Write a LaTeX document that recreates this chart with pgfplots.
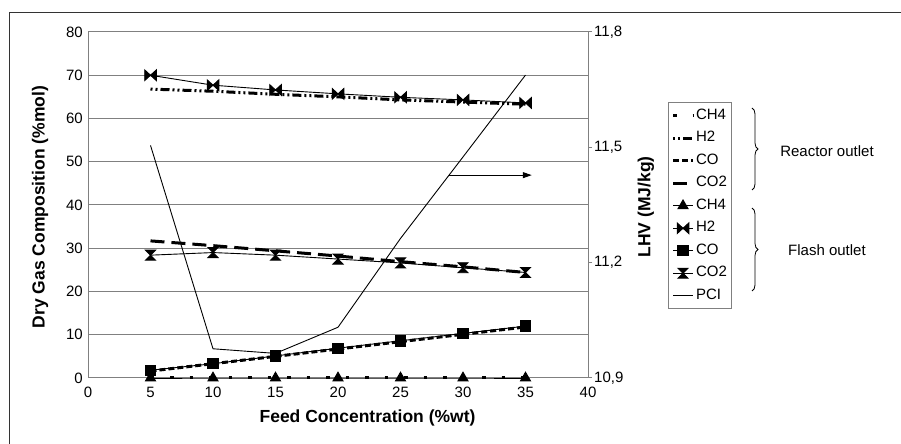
\documentclass[border=0pt]{standalone}
\usepackage{fontspec}
\setmainfont{Liberation Sans}
\usepackage{pgfplots}
\pgfplotsset{compat=1.18}
\usetikzlibrary{arrows.meta,decorations.pathreplacing}

% markers used by the flash outlet series
\pgfdeclareplotmark{bowtie}{%
  \pgfpathmoveto{\pgfqpoint{-5.8bp}{5.3bp}}%
  \pgfpathlineto{\pgfqpoint{5.8bp}{-5.3bp}}%
  \pgfpathlineto{\pgfqpoint{5.8bp}{5.3bp}}%
  \pgfpathlineto{\pgfqpoint{-5.8bp}{-5.3bp}}%
  \pgfpathclose
  \pgfusepathqfillstroke}
\pgfdeclareplotmark{hourglass}{%
  \pgfpathmoveto{\pgfqpoint{-5bp}{5bp}}%
  \pgfpathlineto{\pgfqpoint{5bp}{5bp}}%
  \pgfpathlineto{\pgfqpoint{-5bp}{-5bp}}%
  \pgfpathlineto{\pgfqpoint{5bp}{-5bp}}%
  \pgfpathclose
  \pgfusepathqfillstroke}

\newcommand{\txt}{\fontsize{15bp}{18bp}\selectfont}
\newcommand{\lbl}{\bfseries\fontsize{17.5bp}{20bp}\selectfont}

\begin{document}
\txt
\begin{tikzpicture}[x=1bp,y=1bp]
\useasboundingbox (0,0) rectangle (901,444);
\draw[line width=1bp, black!80] (9,0) -- (9,431) -- (901,431);

\begin{axis}[
    at={(88bp,66bp)}, anchor=south west,
    scale only axis, width=500bp, height=346bp,
    xmin=0, xmax=40, ymin=0, ymax=80,
    xtick={0,5,...,40}, ytick={0,10,...,80},
    axis x line*=bottom, axis y line*=left,
    axis line style={draw=black!50, line width=1bp},
    ymajorgrids, grid style={draw=black!50, line width=1bp},
    major tick length=0pt,
    tick label style={font=\txt},
    /pgf/number format/assume math mode=true,
    xticklabel style={yshift=-4bp},
    clip=false,
    legend cell align=left,
    legend style={at={(1.16,0.7977)}, anchor=north west,
        draw=black!50, line width=1bp, font=\txt,
        inner xsep=3bp, inner ysep=2bp, row sep=0pt,
        nodes={inner xsep=1.5bp, inner ysep=3.75bp, text height=11bp, text depth=4bp}},
    legend image code/.code={\draw[mark repeat=2,mark phase=2,#1]
        plot coordinates {(0bp,0bp) (10bp,0bp) (20bp,0bp)};},
]
% reactor outlet
\addplot[black, line width=3bp, dash pattern=on 3.5bp off 16bp] coordinates {
    (5,0) (10,0) (15,0) (20,0) (25,0) (30,0) (35,0)};
\addlegendentry{CH4}
\addplot[black, line width=3bp, dash pattern=on 2bp off 3bp on 2bp off 3bp on 9bp off 3bp] coordinates {
    (5,66.8) (10,66.3) (15,65.6) (20,65.0) (25,64.3) (30,63.8) (35,63.3)};
\addlegendentry{H2}
\addplot[black, line width=3bp, dash pattern=on 6bp off 3bp] coordinates {
    (5,1.6) (10,3.3) (15,5.0) (20,6.7) (25,8.4) (30,10.1) (35,11.8)};
\addlegendentry{CO}
\addplot[black, line width=3bp, dash pattern=on 14bp off 7bp] coordinates {
    (5,31.7) (10,30.6) (15,29.4) (20,28.2) (25,26.9) (30,25.7) (35,24.4)};
\addlegendentry{CO2}
% flash outlet
\addplot[black, line width=0.9bp, mark=triangle*, mark size=5.8bp, mark options={fill=black}] coordinates {
    (5,0) (10,0) (15,0) (20,0) (25,0) (30,0) (35,0)};
\addlegendentry{CH4}
\addplot[black, line width=0.9bp, mark=bowtie, mark options={fill=black}] coordinates {
    (5,70.0) (10,67.7) (15,66.6) (20,65.7) (25,64.9) (30,64.3) (35,63.6)};
\addlegendentry{H2}
\addplot[black, line width=0.9bp, mark=square*, mark size=5.2bp, mark options={fill=black}] coordinates {
    (5,1.8) (10,3.3) (15,5.1) (20,6.9) (25,8.6) (30,10.3) (35,12.0)};
\addlegendentry{CO}
\addplot[black, line width=0.9bp, mark=hourglass, mark options={fill=black}] coordinates {
    (5,28.4) (10,29.0) (15,28.4) (20,27.5) (25,26.6) (30,25.5) (35,24.4)};
\addlegendentry{CO2}
\addlegendimage{black, line width=0.9bp}
\addlegendentry{PCI}

\draw[black, line width=0.9bp, -{Triangle[length=9bp,width=6bp]}]
    (axis cs:28.9,46.9) -- (axis cs:35.5,46.9);
\end{axis}

\begin{axis}[
    at={(88bp,66bp)}, anchor=south west,
    scale only axis, width=500bp, height=346bp,
    xmin=0, xmax=40, ymin=10.9, ymax=11.8,
    axis x line=none, axis y line*=right,
    axis line style={draw=black!50, line width=1bp},
    ytick={10.9,11.2,11.5,11.8},
    tick style={draw=black!50, line width=1bp},
    tick align=outside, major tick length=4bp,
    tick label style={font=\txt},
    yticklabel style={xshift=-3bp},
    /pgf/number format/.cd, assume math mode=true, use comma, fixed, fixed zerofill, precision=1,
]
\addplot[black, line width=0.9bp] coordinates {
    (5,11.505) (10,10.976) (15,10.964) (20,11.032) (25,11.263) (30,11.475) (35,11.688)};
\end{axis}

\node[font=\lbl] at (367.5,26) {Feed Concentration (\%wt)};
\node[font=\lbl, rotate=90] at (40,237) {Dry Gas Composition (\%mol)};
\node[font=\lbl, rotate=90] at (646,237) {LHV (MJ/kg)};

\draw[decorate, decoration={brace, amplitude=6bp}, line width=0.8bp] (752,336) -- (752,254);
\draw[decorate, decoration={brace, amplitude=6bp}, line width=0.8bp] (752,236) -- (752,153);
\node[font=\txt] at (827,293) {Reactor outlet};
\node[font=\txt] at (827,194) {Flash outlet};
\end{tikzpicture}
\end{document}
